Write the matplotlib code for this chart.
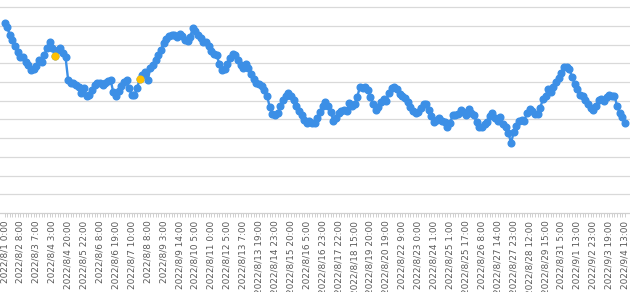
import matplotlib
matplotlib.use("Agg")
import matplotlib.pyplot as plt
from matplotlib.ticker import FixedLocator

values = [
    101.6, 99.5, 95.2, 92.5, 89.3, 86.1, 83.4, 83.4, 80.7, 79.1,
    76.5, 77.0, 78.6, 81.8, 80.7, 84.5, 88.2, 91.4, 88.2, 84.0,
    87.2, 88.2, 85.6, 83.4, 71.1, 69.5, 69.5, 68.4, 67.4, 64.2,
    66.8, 62.6, 63.1, 65.8, 68.4, 69.5, 69.5, 68.4, 69.5, 70.6,
    71.1, 64.7, 62.6, 65.2, 67.9, 70.1, 71.1, 66.8, 63.1, 63.1,
    66.8, 71.7, 73.8, 75.4, 71.1, 77.5, 79.1, 81.8, 84.5, 87.2,
    90.9, 93.0, 94.7, 95.2, 95.2, 94.1, 95.7, 94.7, 92.5, 92.0,
    94.1, 98.9, 97.3, 95.2, 93.6, 91.4, 91.4, 89.3, 86.6, 85.0,
    84.5, 79.7, 76.5, 77.0, 79.7, 82.9, 85.0, 84.5, 81.8, 79.1,
    77.5, 79.7, 77.5, 74.3, 71.7, 69.5, 69.0, 67.9, 65.8, 62.6,
    56.7, 52.9, 52.4, 53.5, 57.2, 60.4, 62.6, 64.2, 62.6, 60.4,
    57.2, 54.5, 52.4, 49.7, 48.1, 49.2, 48.1, 48.1, 50.8, 54.0,
    57.2, 59.4, 57.2, 54.0, 49.2, 50.8, 53.5, 54.5, 55.1, 54.5,
    58.8, 57.2, 58.3, 62.0, 67.4, 66.8, 67.4, 65.8, 62.0, 58.3,
    55.1, 56.7, 59.4, 61.0, 59.9, 64.2, 66.8, 67.4, 66.3, 63.6,
    62.6, 61.5, 59.4, 56.7, 54.5, 53.5, 54.0, 56.1, 58.3, 58.3,
    55.1, 51.9, 48.7, 49.7, 50.8, 49.2, 48.7, 46.0, 48.1, 52.4,
    52.4, 52.9, 55.1, 54.0, 52.4, 55.6, 53.5, 52.4, 48.7, 46.0,
    46.0, 47.6, 48.7, 51.9, 53.5, 50.8, 49.2, 51.3, 47.6, 46.0,
    42.8, 37.4, 43.3, 46.5, 49.2, 49.7, 49.2, 53.5, 55.6, 54.5,
    52.9, 52.9, 56.1, 61.0, 62.6, 66.3, 64.7, 67.4, 70.1, 72.2,
    74.9, 78.1, 78.1, 77.0, 72.7, 69.0, 66.3, 63.1, 62.6, 60.4,
    58.3, 56.1, 55.1, 57.2, 60.4, 61.0, 59.9, 62.0, 63.1, 62.6,
    62.6, 57.2, 53.5, 51.3, 48.1,
]

highlight_idx = [19, 51]

tick_labels = [
    "2022/8/1 0:00", "2022/8/2 8:00", "2022/8/3 7:00", "2022/8/4 3:00",
    "2022/8/4 20:00", "2022/8/5 22:00", "2022/8/6 8:00", "2022/8/6 19:00",
    "2022/8/7 10:00", "2022/8/8 8:00", "2022/8/9 3:00", "2022/8/9 14:00",
    "2022/8/10 5:00", "2022/8/11 0:00", "2022/8/12 5:00", "2022/8/13 7:00",
    "2022/8/13 19:00", "2022/8/14 23:00", "2022/8/15 20:00", "2022/8/16 5:00",
    "2022/8/16 23:00", "2022/8/17 22:00", "2022/8/18 15:00", "2022/8/19 20:00",
    "2022/8/20 19:00", "2022/8/22 9:00", "2022/8/23 0:00", "2022/8/24 1:00",
    "2022/8/25 1:00", "2022/8/25 17:00", "2022/8/26 8:00", "2022/8/27 14:00",
    "2022/8/27 23:00", "2022/8/28 12:00", "2022/8/29 15:00", "2022/8/31 5:00",
    "2022/9/1 13:00", "2022/9/2 23:00", "2022/9/3 19:00", "2022/9/4 13:00",
]
label_step = 6

n = len(values)
x = list(range(n))

fig = plt.figure(figsize=(6.3, 2.92), dpi=100)
ax = fig.add_axes([0, 79 / 292, 1, 213 / 292])

blue = "#3C8FE6"
ax.plot(x, values, color=blue, lw=1.7, marker="o", ms=4.8,
        mfc=blue, mec=blue, zorder=3)
ax.plot([x[i] for i in highlight_idx], [values[i] for i in highlight_idx],
        ls="none", marker="o", ms=4.8, mfc="#FFC000", mec="#FFC000", zorder=4)

ax.set_xlim(-1.7, n - 1 + 1.85)
ax.set_ylim(0, 113.9)
ax.set_yticks(range(10, 111, 10))
ax.yaxis.grid(True, color="#D9D9D9", lw=0.9)
ax.set_axisbelow(True)
ax.tick_params(axis="y", left=False, labelleft=False)

major = list(range(0, n, label_step))
ax.xaxis.set_major_locator(FixedLocator(major))
ax.set_xticklabels(tick_labels, rotation=90, fontsize=6.4, color="#595959",
                   family="DejaVu Sans")
ax.xaxis.set_minor_locator(FixedLocator(x))
ax.tick_params(axis="x", which="both", direction="out", length=3,
               width=0.7, color="#D0D0D0", pad=2.5)

for s in ["top", "left", "right"]:
    ax.spines[s].set_visible(False)
ax.spines["bottom"].set_color("#D0D0D0")
ax.spines["bottom"].set_linewidth(0.9)

fig.savefig("out.png", dpi=100)
